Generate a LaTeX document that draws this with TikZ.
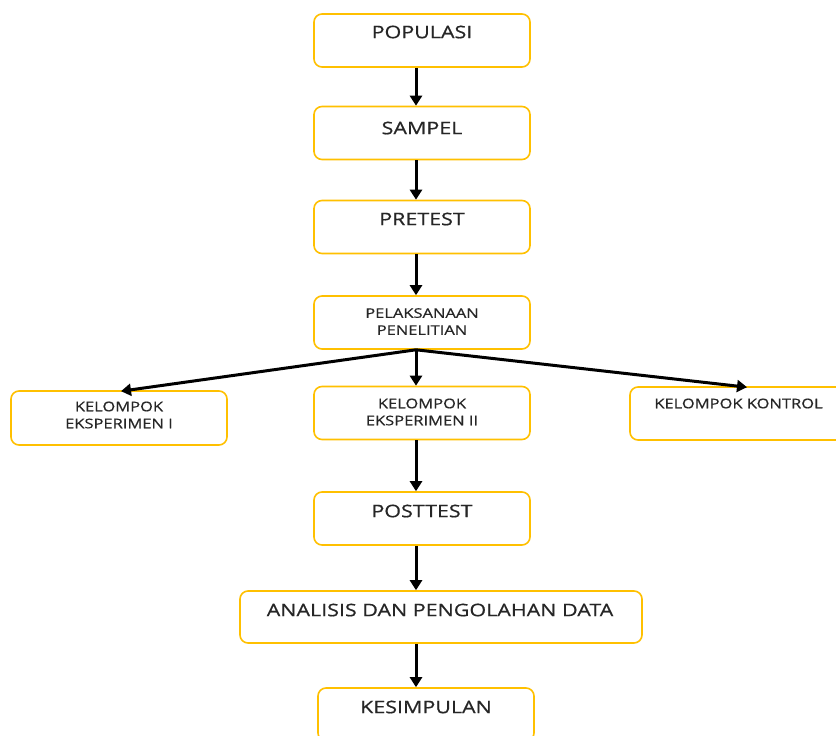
\documentclass[tikz,border=0pt]{standalone}
\usepackage{fontspec}
\setmainfont{Open Sans}[FakeStretch=1.24,FakeBold=0.6]
\usetikzlibrary{arrows.meta}
\definecolor{boxgold}{HTML}{FFC000}
\definecolor{txt}{HTML}{262626}
\tikzset{
  box/.style={draw=boxgold, line width=1.6pt, rounded corners=8pt, minimum width=216pt, minimum height=53pt, inner sep=0pt, fill=white},
  bigtxt/.style={text=txt, font=\fontsize{17.3}{19}\selectfont, inner sep=0pt},
  smalltxt/.style={text=txt, font=\fontsize{13.3}{17}\selectfont, inner sep=0pt, align=center},
  arr/.style={draw=black, line width=3pt, -{Triangle[length=10pt,width=12pt]}},
}
\begin{document}
\begin{tikzpicture}[x=1pt,y=-1pt]
\clip (0,0) rectangle (836,736);
\fill[white] (0,0) rectangle (836,736);
% boxes
\node[box] (pop) at (422,40.5) {};
\node[box] (sam) at (422,133) {};
\node[box] (pre) at (422,227) {};
\node[box] (pel) at (422,322.5) {};
\node[box, minimum height=54pt] (e1) at (119,418) {};
\node[box] (e2) at (422,413) {};
\node[box] (kon) at (738,413.5) {};
\node[box] (post) at (422,518.5) {};
\node[box, minimum width=402pt, minimum height=52pt] (ana) at (441,617) {};
\node[box] (kes) at (426,714.5) {};
% texts
\node[bigtxt] (tpop) at (422,32) {POPULASI};
\node[bigtxt] (tsam) at (422,128) {SAMPEL};
\node[bigtxt] (tpre) at (422,219) {PRETEST};
\node[smalltxt] (tpel) at (422,321.5) {PELAKSANAAN\\PENELITIAN};
\node[smalltxt] (te1) at (119,415) {KELOMPOK\\EKSPERIMEN I};
\node[smalltxt] (te2) at (422,412) {KELOMPOK\\EKSPERIMEN II};
\node[smalltxt] (tkon) at (738.5,403.5) {KELOMPOK KONTROL};
\node[bigtxt] (tpost) at (422,511) {POSTTEST};
\node[bigtxt] (tana) at (440,610) {ANALISIS DAN PENGOLAHAN DATA};
\node[bigtxt] (tkes) at (426,707) {KESIMPULAN};
% arrows
\draw[arr] ([xshift=-6pt]pop.south) -- ([xshift=-6pt]sam.north);
\draw[arr] ([xshift=-6pt]sam.south) -- ([xshift=-6pt]pre.north);
\draw[arr] ([xshift=-6pt]pre.south) -- ([xshift=-6pt]pel.north);
\draw[arr] ([xshift=-6pt]pel.south) -- ([xshift=-6pt]e2.north);
\draw[arr] ([xshift=-6pt]pel.south) -- ([xshift=2pt,yshift=-1pt]e1.north);
\draw[arr] ([xshift=-6pt]pel.south) -- ([xshift=9pt,yshift=-1pt]kon.north);
\draw[arr] ([xshift=-6pt]e2.south) -- ([xshift=-6pt]post.north);
\draw[arr] ([xshift=-6pt]post.south) -- ([xshift=-25pt]ana.north);
\draw[arr] ([xshift=-25pt]ana.south) -- ([xshift=-10pt]kes.north);
\end{tikzpicture}
\end{document}
